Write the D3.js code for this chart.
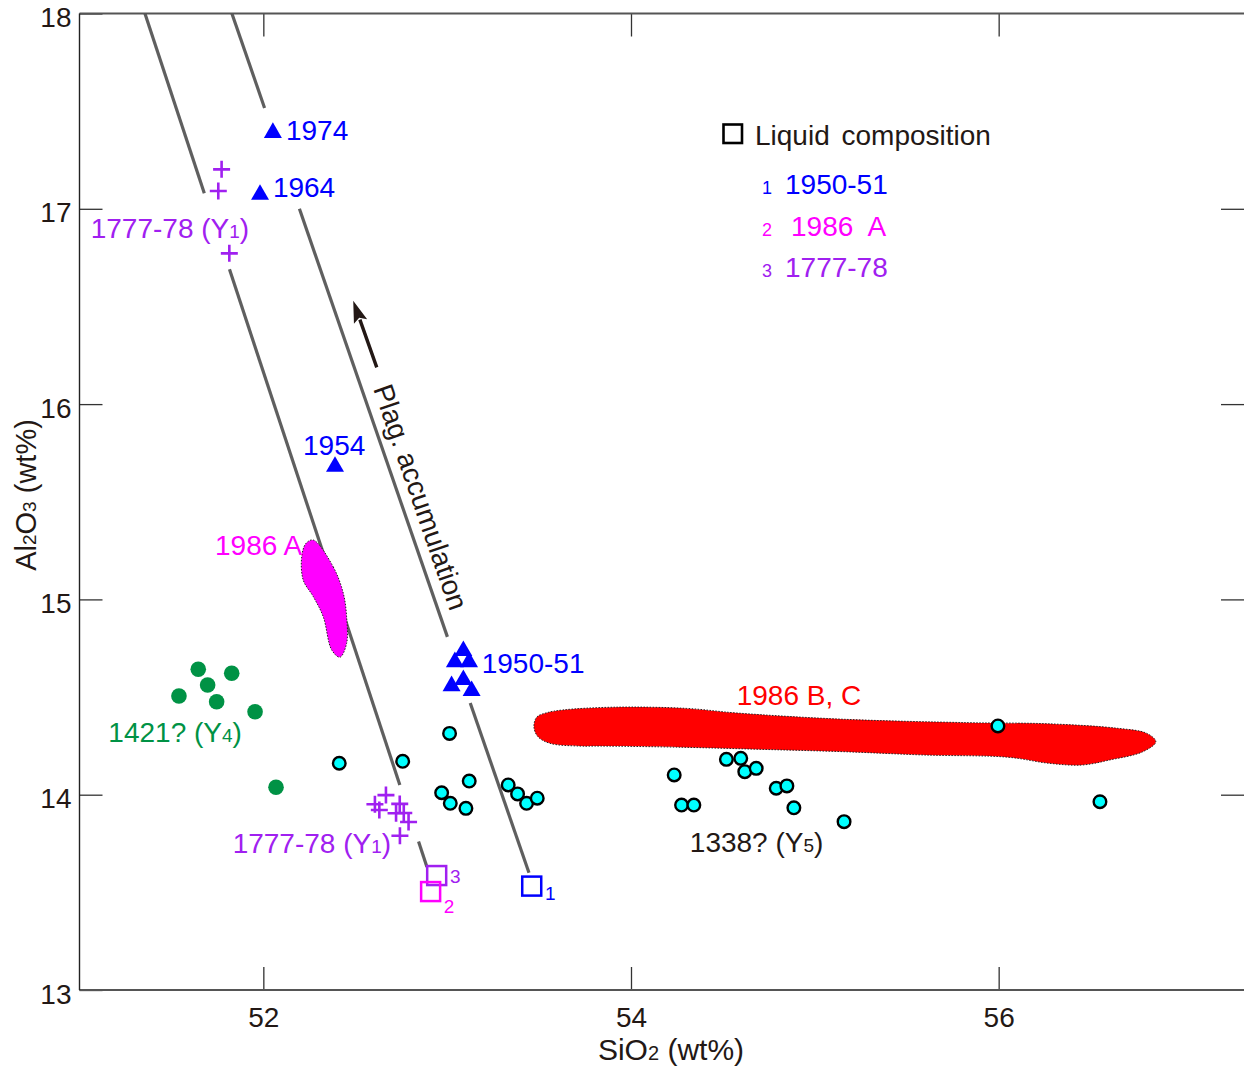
<!DOCTYPE html>
<html><head><meta charset="utf-8">
<script src="https://cdn.jsdelivr.net/npm/d3@7"></script>
<style>body{margin:0;background:#fff}svg text{font-family:"Liberation Sans",Arial,Helvetica,sans-serif}</style>
</head><body>
<svg id="chart" width="1244" height="1066"></svg>
<script>
// ---------- data ----------
const xTicks = [52, 54, 56];
const yTicks = [13, 14, 15, 16, 17, 18];
const xDomain = [51, 57.34];
const yDomain = [13, 18];

// blue triangles (plagioclase-rich lavas)
const triangles = [[52.052,17.403],[51.982,17.086],[52.390,15.693],
  [53.088,14.750],[53.042,14.693],[53.119,14.693],[53.088,14.601],[53.024,14.570],[53.133,14.545]];
// purple crosses 1777-78 (Y1)
const crosses1777 = [[51.773,17.202],[51.755,17.091],[51.815,16.772],
  [52.667,13.998],[52.607,13.951],[52.631,13.922],[52.742,13.953],[52.764,13.906],
  [52.790,13.860],[52.743,13.790],[52.722,13.905]];
// green circles 1421? (Y4)
const circles1421 = [[51.646,14.642],[51.828,14.622],[51.697,14.562],[51.541,14.505],
  [51.746,14.476],[51.955,14.425],[52.069,14.038]];
// cyan circles 1338? (Y5)
const circles1338 = [[52.413,14.161],[52.758,14.171],[53.013,14.314],[52.970,14.010],[53.017,13.956],
  [53.120,14.070],[53.102,13.930],[53.332,14.050],[53.383,14.004],[53.432,13.956],[53.490,13.982],
  [55.996,14.352],[54.235,14.101],[54.519,14.181],[54.597,14.186],[54.619,14.118],[54.681,14.135],
  [54.790,14.033],[54.848,14.045],[54.275,13.947],[54.342,13.947],[54.886,13.933],[55.159,13.862],
  [56.551,13.964]];
// liquid compositions (squares)
const liquidLabels = ["1", "3", "2"];
const liquidPoints = [[53.460,13.532],[52.943,13.586],[52.910,13.504]];
// 1986 A field
const field1986A = [[52.272,15.304],[52.380,15.167],[52.435,15.031],[52.453,14.911],[52.453,14.775],
  [52.417,14.704],[52.372,14.741],[52.326,14.911],[52.272,15.014],[52.217,15.099],[52.209,15.219],[52.232,15.287]];
// 1986 B, C field
const field1986BC = [[53.472,14.347],[53.488,14.398],[53.543,14.420],[53.630,14.434],[53.902,14.448],
  [54.300,14.442],[54.580,14.418],[55.164,14.386],[55.827,14.369],[56.273,14.363],[56.648,14.340],
  [56.806,14.314],[56.855,14.271],[56.784,14.220],[56.605,14.178],[56.453,14.152],[56.273,14.161],
  [56.050,14.192],[55.604,14.203],[55.164,14.220],[54.718,14.232],[54.277,14.243],[53.831,14.249],
  [53.722,14.249],[53.559,14.263],[53.494,14.297]];
// guide lines (plag. accumulation trends) and their visible y-ranges
const guideLines = [[[51.356,18],[52.890,13.63]], [[51.829,18],[53.445,13.60]]];
const guideSegments = [
  [[18,17.08],[16.69,14.05],[13.76,13.63]],
  [[18,17.516],[17.0,14.808],[14.47,13.60]]
];
const arrowTail = [52.617,16.188];
const arrowTip = [52.489,16.529];

// annotation labels (data coords of text start, baseline)
const labels = [
  {t:"1974", x:52.123, y:17.352, c:"#0000ff"},
  {t:"1964", x:52.052, y:17.060, c:"#0000ff"},
  {t:"1777-78 (Y", sub:"1", tail:")", x:51.061, y:16.850, c:"#a020f0"},
  {t:"1954", x:52.216, y:15.739, c:"#0000ff"},
  {t:"1986 A", x:51.737, y:15.227, c:"#ff00ff"},
  {t:"1950-51", x:53.188, y:14.623, c:"#0000ff"},
  {t:"1986 B, C", x:54.575, y:14.459, c:"#ff0000"},
  {t:"1421? (Y", sub:"4", tail:")", x:51.157, y:14.271, c:"#009245"},
  {t:"1777-78 (Y", sub:"1", tail:")", x:51.833, y:13.700, c:"#a020f0"},
  {t:"1338? (Y", sub:"5", tail:")", x:54.320, y:13.708, c:"#231815"}
];
const squareLabelPos = [[53.532,13.461],[53.015,13.548],[52.982,13.394]];
const liquidColors = ["#0000ff", "#a020f0", "#ff00ff"];
const legendRows = [
  {n:"1", t:"1950-51", c:"#0000ff"},
  {n:"2", t:"1986 A", c:"#ff00ff"},
  {n:"3", t:"1777-78", c:"#a020f0"}
];

// ---------- drawing ----------
const svg = d3.select("#chart");
const W = 1244;
const x = d3.scaleLinear().domain(xDomain).range([79.5, 1245]);
const y = d3.scaleLinear().domain(yDomain).range([990, 13.5]);
const ink = "#231815";

// guide lines
guideLines.forEach((ln, i) => {
  const [p0, p1] = ln;
  const xAt = yy => p0[0] + (p1[0]-p0[0]) * (yy - p0[1]) / (p1[1]-p0[1]);
  guideSegments[i].forEach(seg => {
    svg.append("line")
      .attr("x1", x(xAt(seg[0]))).attr("y1", y(seg[0]))
      .attr("x2", x(xAt(seg[1]))).attr("y2", y(seg[1]))
      .attr("stroke", "#5f5f5f").attr("stroke-width", 3.2);
  });
});

// fields
const fieldLine = d3.line().x(d => x(d[0])).y(d => y(d[1])).curve(d3.curveCatmullRomClosed.alpha(0.5));
svg.append("path").attr("d", fieldLine(field1986A))
  .attr("fill", "#ff00ff").attr("stroke", "#222").attr("stroke-width", 1).attr("stroke-dasharray", "1.5,1.5");
svg.append("path").attr("d", fieldLine(field1986BC))
  .attr("fill", "#ff0000").attr("stroke", "#222").attr("stroke-width", 1).attr("stroke-dasharray", "1.5,1.5");

// arrow
{
  const tx = x(arrowTail[0]), ty = y(arrowTail[1]);
  const px = x(arrowTip[0]), py = y(arrowTip[1]);
  const L = Math.hypot(px-tx, py-ty), ux = (px-tx)/L, uy = (py-ty)/L;
  const hl = 22, hw = 7;
  const bx = px - ux*hl, by = py - uy*hl;
  svg.append("line").attr("x1", tx).attr("y1", ty).attr("x2", bx + ux*2).attr("y2", by + uy*2)
    .attr("stroke", ink).attr("stroke-width", 3.4);
  svg.append("path")
    .attr("d", `M${px},${py}L${bx - uy*hw},${by + ux*hw}L${bx + ux*4},${by + uy*4}L${bx + uy*hw},${by - ux*hw}Z`)
    .attr("fill", ink);
}
// Plag. accumulation text
{
  const [p0, p1] = guideLines[1];
  const ang = Math.atan2(y(p1[1]) - y(p0[1]), x(p1[0]) - x(p0[0])) * 180 / Math.PI;
  svg.append("text")
    .attr("transform", `translate(${x(52.855)},${y(15.524)}) rotate(${ang})`)
    .attr("text-anchor", "middle").attr("dominant-baseline", "central")
    .attr("font-size", 28).attr("fill", ink).text("Plag. accumulation");
}

// green circles
svg.append("g").selectAll("circle").data(circles1421).join("circle")
  .attr("cx", d => x(d[0])).attr("cy", d => y(d[1])).attr("r", 7.8).attr("fill", "#009245");
// cyan circles
svg.append("g").selectAll("circle").data(circles1338).join("circle")
  .attr("cx", d => x(d[0])).attr("cy", d => y(d[1])).attr("r", 6.3)
  .attr("fill", "#00ffff").attr("stroke", "#000").attr("stroke-width", 2.4);
// triangles
svg.append("g").selectAll("path").data(triangles).join("path")
  .attr("transform", d => `translate(${x(d[0])},${y(d[1]) + 2.6})`)
  .attr("d", d3.symbol(d3.symbolTriangle, 140)).attr("fill", "#0000ff");
// crosses
svg.append("g").selectAll("path").data(crosses1777).join("path")
  .attr("transform", d => `translate(${x(d[0])},${y(d[1])})`)
  .attr("d", "M-8.5,0H8.5M0,-8.5V8.5").attr("stroke", "#a020f0").attr("stroke-width", 2.6).attr("fill", "none");
// squares
svg.append("g").selectAll("rect").data(liquidPoints).join("rect")
  .attr("x", d => x(d[0]) - 9.5).attr("y", d => y(d[1]) - 9.5).attr("width", 19).attr("height", 19)
  .attr("fill", "none").attr("stroke", (d, i) => liquidColors[i]).attr("stroke-width", 2.5);
svg.append("g").selectAll("text").data(squareLabelPos).join("text")
  .attr("x", d => x(d[0])).attr("y", d => y(d[1]))
  .attr("font-size", 19).attr("fill", (d, i) => liquidColors[i]).text((d, i) => liquidLabels[i]);

// labels
labels.forEach(l => {
  const t = svg.append("text").attr("x", x(l.x)).attr("y", y(l.y)).attr("font-size", 28).attr("fill", l.c);
  t.append("tspan").text(l.t);
  if (l.sub) {
    t.append("tspan").attr("font-size", 19).text(l.sub);
    t.append("tspan").text(l.tail);
  }
});

// legend
svg.append("rect").attr("x", 723.5).attr("y", 124.5).attr("width", 18.5).attr("height", 18.5)
  .attr("fill", "none").attr("stroke", "#000").attr("stroke-width", 2.6);
svg.append("text").attr("x", 755).attr("y", 145).attr("font-size", 28).attr("fill", ink)
  .attr("word-spacing", 4).text("Liquid composition");
legendRows.forEach((r, i) => {
  const by = 194 + i * 41.5;
  svg.append("text").attr("x", 762).attr("y", by).attr("font-size", 18).attr("fill", r.c).text(r.n);
  svg.append("text").attr("x", i === 1 ? 791 : 785).attr("y", by).attr("font-size", 28).attr("fill", r.c)
    .attr("word-spacing", i === 1 ? 8 : 0).text(r.t);
});

// axes
const tickStyle = g => {
  g.select(".domain").remove();
  g.selectAll(".tick line").attr("stroke", "#333").attr("stroke-width", 1.3);
  g.selectAll(".tick text").attr("font-size", 28).attr("fill", ink)
    .attr("font-family", '"Liberation Sans",Arial,sans-serif');
};
svg.append("g").attr("transform", "translate(0,990)")
  .call(d3.axisBottom(x).tickValues(xTicks).tickSizeInner(-23).tickSizeOuter(0).tickPadding(17).tickFormat(d3.format("d")))
  .call(tickStyle);
svg.append("g").attr("transform", "translate(0,13.5)")
  .call(d3.axisTop(x).tickValues(xTicks).tickSizeInner(-23).tickSizeOuter(0).tickFormat(""))
  .call(tickStyle);
svg.append("g").attr("transform", "translate(79.5,0)")
  .call(d3.axisLeft(y).tickValues(yTicks).tickSizeInner(-23).tickSizeOuter(0).tickPadding(8).tickFormat(d3.format("d")))
  .call(tickStyle)
  .call(g => g.selectAll(".tick text").attr("dy", "0.47em"));
svg.append("g").attr("transform", `translate(${W},0)`)
  .call(d3.axisRight(y).tickValues(yTicks.slice(1, -1)).tickSizeInner(-23).tickSizeOuter(0).tickFormat(""))
  .call(tickStyle);

// frame lines
svg.append("line").attr("x1", 79.5).attr("x2", W).attr("y1", 13.5).attr("y2", 13.5).attr("stroke", "#555").attr("stroke-width", 2);
svg.append("line").attr("x1", 79.5).attr("x2", W).attr("y1", 990).attr("y2", 990).attr("stroke", "#555").attr("stroke-width", 2.2);
svg.append("line").attr("x1", 79.5).attr("x2", 79.5).attr("y1", 13.5).attr("y2", 990).attr("stroke", "#222").attr("stroke-width", 1.4);

// axis titles
{
  const t = svg.append("text").attr("x", 671).attr("y", 1060).attr("text-anchor", "middle")
    .attr("font-size", 30).attr("fill", ink);
  t.append("tspan").text("SiO");
  t.append("tspan").attr("font-size", 20).text("2");
  t.append("tspan").text(" (wt%)");
}
{
  const t = svg.append("text").attr("transform", "translate(36,495) rotate(-90)").attr("text-anchor", "middle")
    .attr("font-size", 29).attr("fill", ink);
  t.append("tspan").text("Al");
  t.append("tspan").attr("font-size", 19).text("2");
  t.append("tspan").text("O");
  t.append("tspan").attr("font-size", 19).text("3");
  t.append("tspan").text(" (wt%)");
}
</script>
</body></html>
